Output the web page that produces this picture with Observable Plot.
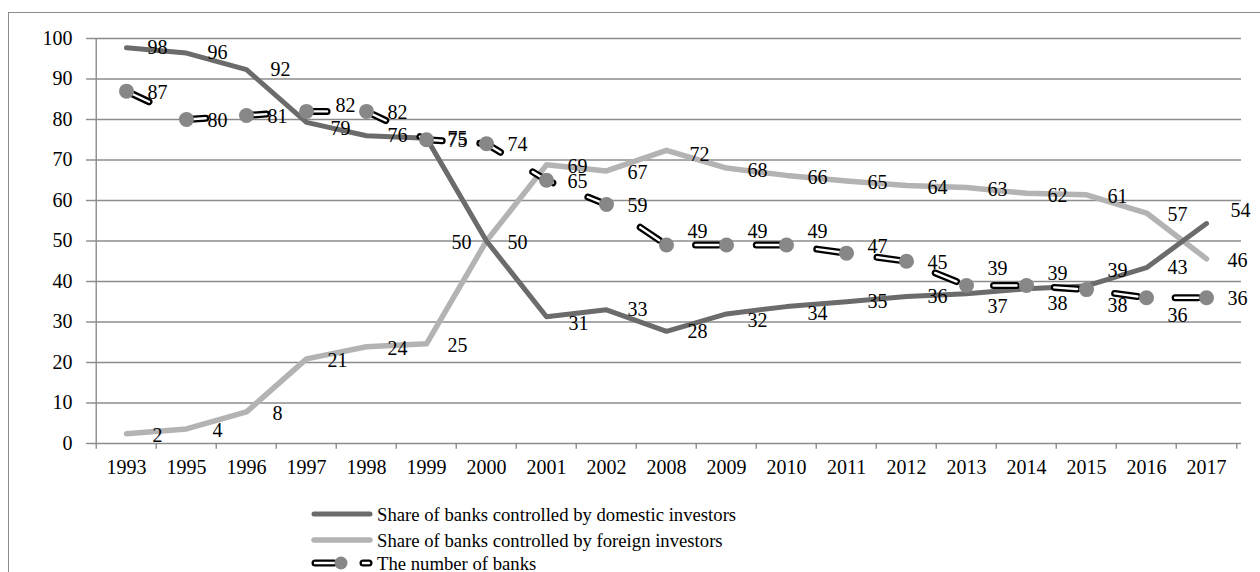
<!DOCTYPE html>
<html><head><meta charset="utf-8">
<script src="https://cdn.jsdelivr.net/npm/d3@7"></script>
<script src="https://cdn.jsdelivr.net/npm/@observablehq/plot@0.6"></script>
<style>
html,body{margin:0;padding:0;background:#fff;overflow:hidden;width:1260px;height:572px}
#frame{position:absolute;left:8px;top:12px;width:1400px;height:700px;border:1.5px solid #8c8c8c;box-sizing:border-box}
#chart{position:absolute;left:0;top:0}
#legend{position:absolute;left:0;top:490px}
svg text{font-family:'Liberation Serif',Tinos,'Times New Roman','DejaVu Serif',serif !important}
</style></head><body>
<div id="frame"></div>
<div id="chart"></div>
<svg id="legend" width="900" height="82"></svg>
<script>
const years = ["1993","1995","1996","1997","1998","1999","2000","2001","2002","2008","2009","2010","2011","2012","2013","2014","2015","2016","2017"];
const domestic = [97.7,96.4,92.3,79.3,76.0,75.4,50.0,31.3,33.0,27.7,32.0,33.8,35.0,36.3,37.0,38.2,38.9,43.4,54.3];
const foreign = [2.4,3.6,7.8,20.9,23.9,24.6,50.0,68.8,67.3,72.4,68.0,66.2,64.8,63.7,63.2,61.8,61.4,56.9,45.6];
const banks = [87,80,81,82,82,75,74,65,59,49,49,49,47,45,39,39,38,36,36];
const yTicks = [0,10,20,30,40,50,60,70,80,90,100];
const seriesNames = ["Share of banks controlled by domestic investors","Share of banks controlled by foreign investors","The number of banks"];

const FONT = "'Liberation Serif', Tinos, 'Times New Roman', 'DejaVu Serif', serif";
const W = 1260, H = 490, mL = 91, mR = 19, mT = 38, mB = 47;
const half = (W - mL - mR) / years.length / 2;
const GRID = "#8c8c8c", DOM = "#6b6b6b", FOR = "#b3b3b3", DOT = "#878787";

const rows = years.map((year, i) => ({year, domestic: domestic[i], foreign: foreign[i], banks: banks[i]}));
const fmt = d3.format(".0f");

// label nudges (dx, dy) per series/year; default dx = 31
const nudge = {
  domestic: {"1996":[34,0],"1997":[34,6],"2000":[-25,2],"2001":[32,7],"2009":[31,7],"2010":[31,7],"2013":[31,13],"2014":[31,15],"2015":[31,-15],"2017":[34,-13]},
  foreign: {"2008":[33,4]},
  banks: {"1997":[39,-6],"2008":[31,-13],"2009":[31,-13],"2010":[31,-13],"2011":[31,-7],"2013":[31,-17],"2014":[31,-12],"2015":[31,16],"2016":[31,18]}
};
const defaultDy = {domestic: 0, foreign: 2, banks: 1};

const labelMarks = [];
for (const key of ["foreign","domestic","banks"]) {
  for (const r of rows) {
    const [dx, dy] = (nudge[key][r.year]) || [31, defaultDy[key]];
    labelMarks.push(Plot.text([r], {x: "year", y: key, text: d => fmt(d[key]), dx, dy, fill: "black", fontSize: 20, fontFamily: FONT, textAnchor: "middle"}));
  }
}

const dash = "23 37.76";
const chart = Plot.plot({
  width: W, height: H,
  marginLeft: mL, marginRight: mR, marginTop: mT, marginBottom: mB,
  style: {fontFamily: FONT, fontSize: "20px", background: "transparent", overflow: "visible"},
  x: {type: "point", domain: years, padding: 0.5},
  y: {domain: [0, 100]},
  marks: [
    Plot.ruleY(yTicks, {stroke: GRID, strokeWidth: 1.4}),
    Plot.ruleX([years[0]], {y1: 0, y2: 100, dx: -half, stroke: GRID, strokeWidth: 1.4}),
    Plot.ruleX(years, {x: d => d, y1: 0, y2: -1.4, dx: -half, stroke: GRID, strokeWidth: 1.4}),
    Plot.ruleX([years[years.length - 1]], {y1: 0, y2: -1.4, dx: half, stroke: GRID, strokeWidth: 1.4}),
    Plot.axisY(yTicks, {tickSize: 5, tickPadding: 14, stroke: GRID, strokeWidth: 1.4, fill: "black", fontSize: 20, fontFamily: FONT, label: null}),
    Plot.axisX({tickSize: 0, tickPadding: 16, fill: "black", fontSize: 20, fontFamily: FONT, label: null}),
    Plot.line(rows, {x: "year", y: "foreign", stroke: FOR, strokeWidth: 5.5}),
    Plot.line(rows, {x: "year", y: "domestic", stroke: DOM, strokeWidth: 5}),
    Plot.line(rows, {x: "year", y: "banks", stroke: "black", strokeWidth: 7, strokeDasharray: dash, strokeDashoffset: -1.9, strokeLinecap: "round"}),
    Plot.line(rows, {x: "year", y: "banks", stroke: "white", strokeWidth: 2.4, strokeDasharray: dash, strokeDashoffset: -1.9, strokeLinecap: "round"}),
    Plot.dot(rows, {x: "year", y: "banks", r: 7.5, fill: DOT, stroke: "none"}),
    ...labelMarks
  ]
});
document.getElementById("chart").appendChild(chart);

// legend
const lg = d3.select("#legend").style("font-family", FONT);
const rowsY = [24, 50, 73];
const x0 = 312, x1 = 372;
lg.append("line").attr("x1", x0 + 2).attr("x2", x1 - 2).attr("y1", rowsY[0]).attr("y2", rowsY[0]).attr("stroke", DOM).attr("stroke-width", 5).attr("stroke-linecap", "round");
lg.append("line").attr("x1", x0 + 2).attr("x2", x1 - 2).attr("y1", rowsY[1]).attr("y2", rowsY[1]).attr("stroke", FOR).attr("stroke-width", 5.5).attr("stroke-linecap", "round");
for (const [a, b, c, w] of [[x0 + 3, 334, "black", 7], [x0 + 3, 334, "white", 2.4], [363, 369, "black", 7], [363, 369, "white", 2.4]]) {
  lg.append("line").attr("x1", a).attr("x2", b).attr("y1", rowsY[2]).attr("y2", rowsY[2]).attr("stroke", c).attr("stroke-width", w).attr("stroke-linecap", "round");
}
lg.append("circle").attr("cx", 341).attr("cy", rowsY[2]).attr("r", 6.5).attr("fill", DOT);
seriesNames.forEach((name, i) => {
  lg.append("text").attr("x", 377).attr("y", rowsY[i]).attr("dy", "0.36em").attr("font-size", 18.7).attr("fill", "black").text(name);
});
</script>
</body></html>
